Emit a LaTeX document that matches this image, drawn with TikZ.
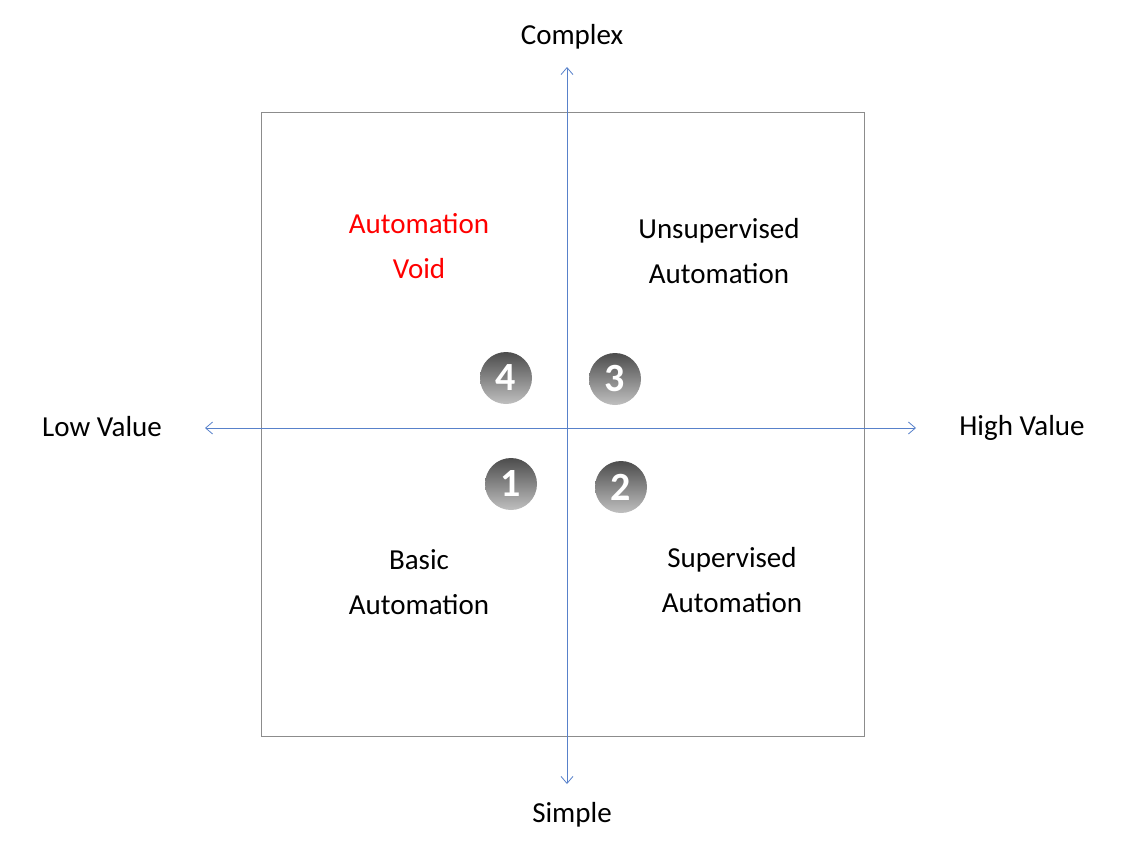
\documentclass[tikz,border=0pt]{standalone}
\usepackage{fontspec}
\setmainfont{Carlito}
\usetikzlibrary{arrows.meta}
\begin{document}
\begin{tikzpicture}[x=1pt,y=-1pt,
  lbl/.style={font=\fontsize{29}{45}\selectfont,align=center},
  badge/.style={circle,minimum size=52pt,inner sep=0pt,top color=black!70,bottom color=black!25,text=white,font=\fontsize{40}{40}\selectfont\bfseries},
  ax/.style={draw=blue!45!cyan!60!black!60,line width=0.8pt,{Straight Barb[length=7pt,width=12pt]}-{Straight Barb[length=7pt,width=12pt]}}]
\useasboundingbox (0,0) rectangle (1128,859);
\node[draw=black!45,line width=1pt,minimum width=603pt,minimum height=624pt,inner sep=0pt] (box) at (562.5,424) {};
\coordinate (t) at (567,67); \coordinate (b) at (567,784);
\coordinate (l) at (205,428); \coordinate (r) at (916,428);
\draw[ax,draw=cyan!40!blue!70!white] (t) -- (b);
\draw[ax,draw=cyan!40!blue!70!white] (l) -- (r);
\node[lbl] (cx) at (572,37) {Complex};
\node[lbl] (sp) at (572,815) {Simple};
\node[lbl] (lv) at (102,427) {Low Value};
\node[lbl] (hv) at (1022,428) {High Value};
\node[lbl,text=red] (av) at (419,246) {Automation\\Void};
\node[lbl] (ua) at (719,251) {Unsupervised\\Automation};
\node[lbl] (ba) at (419,582) {Basic\\Automation};
\node[lbl] (sa) at (732,580) {Supervised\\Automation};
\node[badge] (n4) at (506,378) {4};
\node[badge] (n3) at (615,379) {3};
\node[badge] (n1) at (511,484) {1};
\node[badge] (n2) at (621,487) {2};
\end{tikzpicture}
\end{document}
